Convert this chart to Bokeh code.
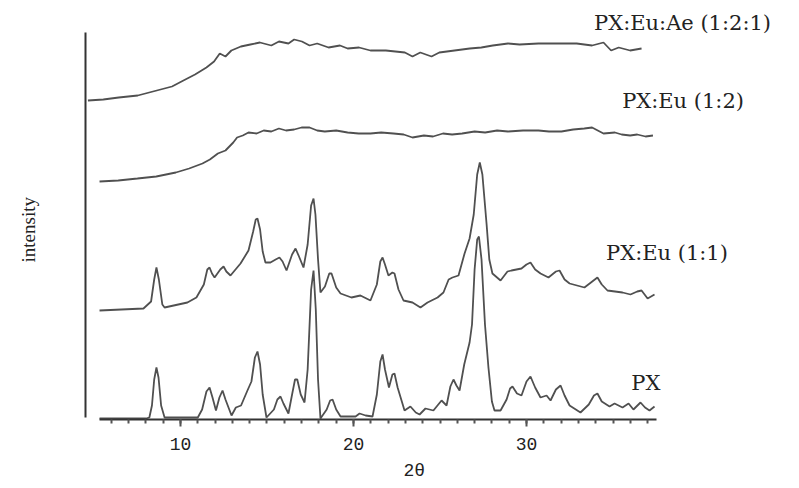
from bokeh.plotting import figure
from bokeh.models import Range1d, FixedTicker, Label, Title
from bokeh.embed import file_html
from bokeh.resources import INLINE

# ---- data (2theta, stacked intensity in arbitrary units) ----
px_x = [5.32, 8.0, 8.2, 8.35, 8.48, 8.61, 8.73, 8.88, 9.08, 11.0, 11.25, 11.5, 11.68, 11.85, 12.05,
        12.25, 12.43, 12.6, 12.95, 13.2, 13.5, 13.87, 14.1, 14.3, 14.45, 14.6, 14.75, 14.97, 15.4,
        15.6, 15.78, 15.95, 16.24, 16.45, 16.62, 16.75, 16.95, 17.17, 17.35, 17.55, 17.69, 17.82,
        17.95, 18.09, 18.45, 18.65, 18.79, 19.0, 19.25, 20.12, 20.35, 20.7, 21.10, 21.35, 21.55,
        21.68, 21.82, 22.05, 22.25, 22.37, 22.55, 22.95, 23.29, 23.6, 23.82, 24.16, 24.62, 25.09,
        25.38, 25.6, 25.78, 25.95, 26.13, 26.4, 26.71, 26.85, 27.0, 27.15, 27.25, 27.4, 27.6, 27.80,
        28.0, 28.15, 28.50, 28.85, 29.05, 29.19, 29.45, 29.71, 30.0, 30.23, 30.5, 30.81, 31.16,
        31.39, 31.7, 31.97, 32.2, 32.49, 33.12, 33.6, 33.9, 34.10, 34.35, 34.80, 35.09, 35.55,
        35.90, 36.18, 36.59, 36.85, 37.11, 37.40]
px_y = [1, 1, 2, 14, 40, 52, 42, 14, 2, 2, 10, 28, 32, 22, 9,
        22, 29, 20, 4, 12, 14, 29, 38, 62, 68, 55, 25, 2, 10,
        20, 23, 16, 6, 25, 40, 40, 25, 17, 50, 130, 149, 110,
        40, 1, 10, 19, 20, 10, 3, 3, 6, 4, 3, 25, 58,
        65, 50, 32, 45, 46, 32, 9, 13, 7, 5, 11, 9, 19,
        14, 33, 40, 34, 29, 55, 77, 95, 150, 180, 183, 160, 95, 52,
        18, 9, 9, 20, 31, 33, 26, 24, 38, 43, 32, 22, 24,
        19, 30, 34, 24, 14, 7, 15, 24, 26, 18, 13, 16, 12,
        16, 10, 17, 12, 9, 13]

eu11_x = [5.32, 7.86, 8.3, 8.48, 8.61, 8.75, 8.95, 9.08, 10.40, 10.92, 11.35, 11.55, 11.68, 11.82,
          11.97, 12.3, 12.49, 12.65, 12.89, 13.47, 13.93, 14.2, 14.35, 14.45, 14.6, 14.75, 14.91,
          15.2, 15.5, 15.72, 15.9, 16.13, 16.45, 16.65, 16.85, 17.11, 17.35, 17.55, 17.69, 17.8,
          17.95, 18.09, 18.35, 18.6, 18.73, 19.0, 19.25, 19.88, 20.40, 20.98, 21.35, 21.55, 21.68,
          21.82, 22.02, 22.25, 22.37, 22.6, 22.89, 23.41, 23.87, 24.28, 24.86, 25.20, 25.5, 25.72,
          26.07, 26.42, 26.71, 26.95, 27.15, 27.3, 27.45, 27.69, 27.85, 28.03, 28.50, 28.9, 29.13,
          29.71, 30.0, 30.23, 30.5, 30.81, 31.27, 31.7, 31.91, 32.2, 32.49, 33.35, 33.8, 34.10,
          34.35, 34.68, 35.55, 36.01, 36.4, 36.65, 37.00, 37.40]
eu11_y = [109, 111, 118, 140, 152, 140, 115, 112, 117, 122, 135, 150, 152, 146,
          142, 150, 153, 148, 144, 156, 169, 188, 200, 201, 190, 168, 157,
          157, 160, 162, 158, 149, 165, 171, 163, 152, 175, 214, 221, 205,
          160, 127, 133, 146, 146, 132, 126, 122, 124, 119, 135, 158, 162,
          155, 144, 147, 146, 130, 119, 117, 112, 117, 122, 127, 140, 142,
          144, 166, 181, 205, 245, 257, 245, 196, 160, 146, 139, 148, 149,
          151, 155, 157, 150, 146, 142, 148, 149, 140, 136, 132, 138, 142,
          135, 129, 127, 125, 128, 129, 121, 125]

eu12_x = [5.32, 6.4, 7.51, 8.6, 9.73, 10.5, 11.27, 11.7, 12.16, 12.6, 13.05, 13.27, 13.6, 13.93,
          14.4, 14.81, 15.25, 15.69, 16.1, 16.57, 17.0, 17.46, 17.9, 18.34, 19.0, 19.66, 20.3,
          20.98, 21.6, 22.31, 22.9, 23.41, 24.07, 24.6, 25.17, 25.7, 26.28, 27.0, 27.61, 28.3,
          28.93, 29.8, 30.69, 31.3, 32.02, 32.7, 33.34, 33.79, 34.45, 35.11, 35.5, 35.99, 36.4,
          36.88, 37.31]
eu12_y = [238, 239, 241, 243, 247, 251, 256, 260, 266, 269, 277, 282, 284, 287,
          286, 289, 288, 291, 289, 290, 292, 292, 289, 288, 289, 287, 286,
          286, 287, 286, 285, 282, 284, 283, 286, 285, 286, 288, 287, 289,
          288, 289, 289, 288, 288, 290, 291, 292, 286, 287, 285, 284, 285,
          283, 284]

ae_x = [4.65, 5.54, 6.43, 7.53, 8.63, 9.51, 10.17, 10.84, 11.50, 11.94, 12.27, 12.60, 12.94, 13.49,
        14.04, 14.59, 15.25, 15.69, 16.24, 16.57, 17.02, 17.46, 17.90, 18.56, 19.22, 19.66, 20.32,
        20.98, 21.87, 22.97, 23.41, 23.86, 24.51, 24.96, 25.84, 26.72, 27.39, 28.05, 28.93, 29.60,
        30.69, 31.79, 32.90, 33.79, 34.45, 34.89, 35.33, 35.99, 36.65]
ae_y = [319, 320, 322, 324, 329, 333, 339, 345, 352, 358, 366, 363, 369, 373,
        375, 377, 374, 378, 376, 380, 378, 374, 376, 372, 374, 371, 372,
        369, 369, 367, 363, 367, 363, 367, 369, 371, 372, 374, 376, 375,
        376, 376, 376, 374, 377, 369, 372, 369, 371]

series_names = ["PX:Eu:Ae (1:2:1)", "PX:Eu (1:2)", "PX:Eu (1:1)", "PX"]
major_ticks = [10, 20, 30]
minor_ticks = list(range(6, 38))

p = figure(width=799, height=488, output_backend="svg", toolbar_location=None,
           x_range=Range1d(4.509, 45.78), y_range=Range1d(0, 419),
           min_border_left=85, min_border_right=0, min_border_top=0, min_border_bottom=69)
p.outline_line_color = None
p.xgrid.visible = False
p.ygrid.visible = False

line_col = "#505050"
for xs, ys in [(ae_x, ae_y), (eu12_x, eu12_y), (eu11_x, eu11_y), (px_x, px_y)]:
    p.line(xs, ys, line_color=line_col, line_width=1.8)

xa = p.xaxis[0]
xa.ticker = FixedTicker(ticks=major_ticks, minor_ticks=minor_ticks)
xa.bounds = (5.32, 37.51)
xa.axis_line_width = 2
xa.axis_line_color = "#333333"
xa.major_tick_in = 0
xa.major_tick_out = 7
xa.minor_tick_in = 0
xa.minor_tick_out = 4
xa.major_tick_line_width = 2
xa.minor_tick_line_width = 2
xa.major_tick_line_color = "#555555"
xa.minor_tick_line_color = "#555555"
xa.major_label_text_font = "Liberation Mono"
xa.major_label_text_font_size = "18px"
xa.major_label_text_color = "#222222"
xa.major_label_standoff = 11

ya = p.yaxis[0]
ya.ticker = FixedTicker(ticks=[])
ya.bounds = (2, 387)
ya.axis_line_width = 2
ya.axis_line_color = "#333333"
ya.major_tick_out = 0
ya.major_tick_in = 0
ya.minor_tick_out = 0
ya.minor_tick_in = 0
ya.axis_label = " "
ya.axis_label_text_font_size = "19px"
ya.axis_label_standoff = 18

lab_font = "DejaVu Serif"
for name, lx, ly in zip(series_names, [39.02, 39.05, 38.12, 36.9], [397, 319, 167, 37]):
    p.add_layout(Label(x=lx, y=ly, text=name, text_font=lab_font, text_font_size="21px",
                       text_color="#222222", text_align="center", text_baseline="middle"))

p.add_layout(Title(text="2θ", align="left", offset=318, standoff=12, text_font="Liberation Mono",
                   text_font_size="18px", text_font_style="normal", text_color="#222222"), "below")
p.add_layout(Title(text="intensity", align="left", offset=157, standoff=10,
                   text_font="Liberation Serif", text_font_size="19px", text_font_style="normal",
                   text_color="#222222"), "left")

open("out.html", "w").write(file_html(p, INLINE))
